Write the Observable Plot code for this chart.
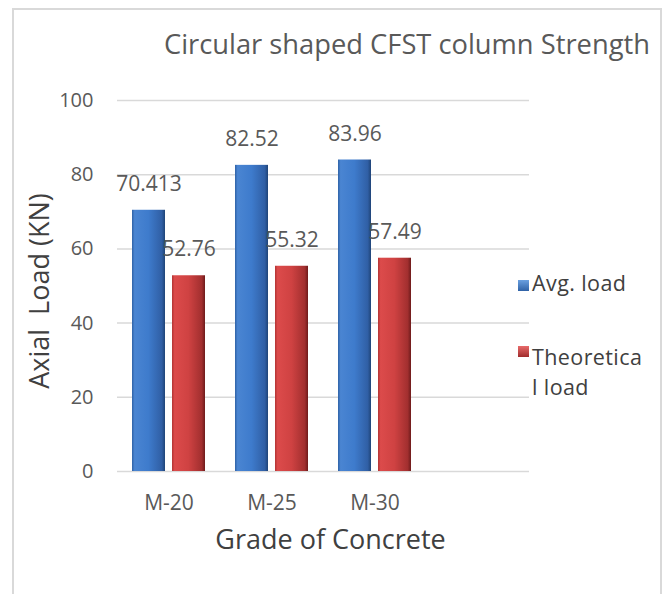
<!DOCTYPE html>
<html>
<head>
<meta charset="utf-8">
<script src="https://cdn.jsdelivr.net/npm/d3@7"></script>
<script src="https://cdn.jsdelivr.net/npm/@observablehq/plot@0.6"></script>
<style>
  html, body { margin: 0; padding: 0; background: #fff; overflow: hidden; }
  #page { position: relative; width: 667px; height: 594px; font-family: "Open Sans", sans-serif; }
  #frame { position: absolute; left: 12px; top: 8px; width: 646px; height: 600px;
           border: 2px solid #d9d9d9; border-bottom: none; pointer-events: none; }
  #title { position: absolute; left: 164px; top: 30px; font-size: 27.3px; line-height: 27px;
           color: #595959; white-space: pre; }
  #chart { position: absolute; left: 0; top: 70px; }
  #chart svg text { white-space: pre; }
  .legend { position: absolute; left: 532px; font-size: 21.5px; line-height: 29.5px; color: #404040;
            letter-spacing: 0.4px; }
  .sw { position: absolute; width: 11px; height: 11px; }
</style>
</head>
<body>
<div id="page">
  <div id="frame"></div>
  <div id="title">Circular shaped CFST column Strength</div>
  <div id="chart"></div>
  <div class="sw" id="sw0" style="left:518px; top:280px;"></div>
  <div class="legend" id="lg0" style="top:268px;"></div>
  <div class="sw" id="sw1" style="left:518px; top:346px;"></div>
  <div class="legend" id="lg1" style="top:342px;"></div>
</div>
<script>
// ---- data ----
const categories = ["M-20", "M-25", "M-30"];
const emptySlot = " ";            // empty 4th category slot of the original chart
const series = ["Avg. load", "Theoretical load"];
const avgLoad = [70.413, 82.52, 83.96];
const theoreticalLoad = [52.76, 55.32, 57.49];
const yTicks = [0, 20, 40, 60, 80, 100];
const legendLines = [["Avg. load"], ["Theoretica", "l load"]];

const data = categories.flatMap((c, i) => [
  {category: c, series: series[0], value: avgLoad[i]},
  {category: c, series: series[1], value: theoreticalLoad[i]}
]);
const slots = [...categories, emptySlot];
const gridData = slots.flatMap(c => yTicks.map(t => ({category: c, tick: t})));

const chart = Plot.plot({
  width: 667,
  height: 524,
  marginTop: 30,
  marginBottom: 123,
  marginLeft: 117,
  marginRight: 138,
  style: {fontFamily: "Open Sans, sans-serif", background: "transparent"},
  fx: {domain: slots, padding: 0},
  x: {domain: series, paddingInner: 0.175, paddingOuter: 0.375, axis: null},
  y: {domain: [0, 100]},
  color: {domain: series, range: ["url(#gBlue)", "url(#gRed)"]},
  marks: [
    Plot.ruleY(gridData, {fx: "category", y: "tick", stroke: "#d9d9d9", strokeWidth: 1.5}),
    Plot.axisY({ticks: yTicks, tickSize: 0, tickPadding: 24, fontSize: 20, color: "#595959",
                label: "Axial  Load (KN)", labelAnchor: "center", labelOffset: 88, labelArrow: "none"}),
    Plot.axisFx({anchor: "bottom", tickSize: 0, tickPadding: 24, fontSize: 21, color: "#595959",
                 label: "Grade of Concrete", labelAnchor: "center", labelOffset: 77, labelArrow: "none"}),
    Plot.barY(data, {fx: "category", x: "series", y: "value", fill: "series"}),
    Plot.text(data, {fx: "category", x: "series", y: "value", text: d => String(d.value),
                     dy: -26, fontSize: 21, fill: "#595959"})
  ]
});

document.getElementById("chart").appendChild(chart);

// gradients for the bevelled bars
const svg = d3.select(chart);
const defs = svg.insert("defs", ":first-child");
function grad(id, stops) {
  const g = defs.append("linearGradient").attr("id", id).attr("x1", 0).attr("x2", 1).attr("y1", 0).attr("y2", 0);
  stops.forEach(([o, c]) => g.append("stop").attr("offset", o).attr("stop-color", c));
}
grad("gBlue", [[0, "#2f62a6"], [0.08, "#4a85d2"], [0.5, "#3e7bcc"], [0.9, "#305fa5"], [1, "#1f4478"]]);
grad("gRed", [[0, "#b23434"], [0.08, "#dc4b4b"], [0.5, "#cf4242"], [0.9, "#a22f2f"], [1, "#6e1b1b"]]);

// axis title styling
svg.selectAll('[aria-label="y-axis label"], [aria-label="fx-axis label"]')
  .attr("font-size", 27).attr("fill", "#404040")
  .selectAll("text").attr("font-size", 27).attr("fill", "#404040");
svg.selectAll('[aria-label="fx-axis label"] text').attr("dx", 7);
svg.selectAll('[aria-label="y-axis label"] text').attr("dx", -5);

// legend (HTML)
const swatchBg = ["linear-gradient(to bottom, #6aa0e0, #2f62a6)", "linear-gradient(to bottom, #e86a6a, #a02c2c)"];
legendLines.forEach((lines, i) => {
  const el = document.getElementById("lg" + i);
  lines.forEach((t, j) => {
    if (j) el.appendChild(document.createElement("br"));
    el.appendChild(document.createTextNode(t));
  });
  document.getElementById("sw" + i).style.background = swatchBg[i];
});
</script>
</body>
</html>
